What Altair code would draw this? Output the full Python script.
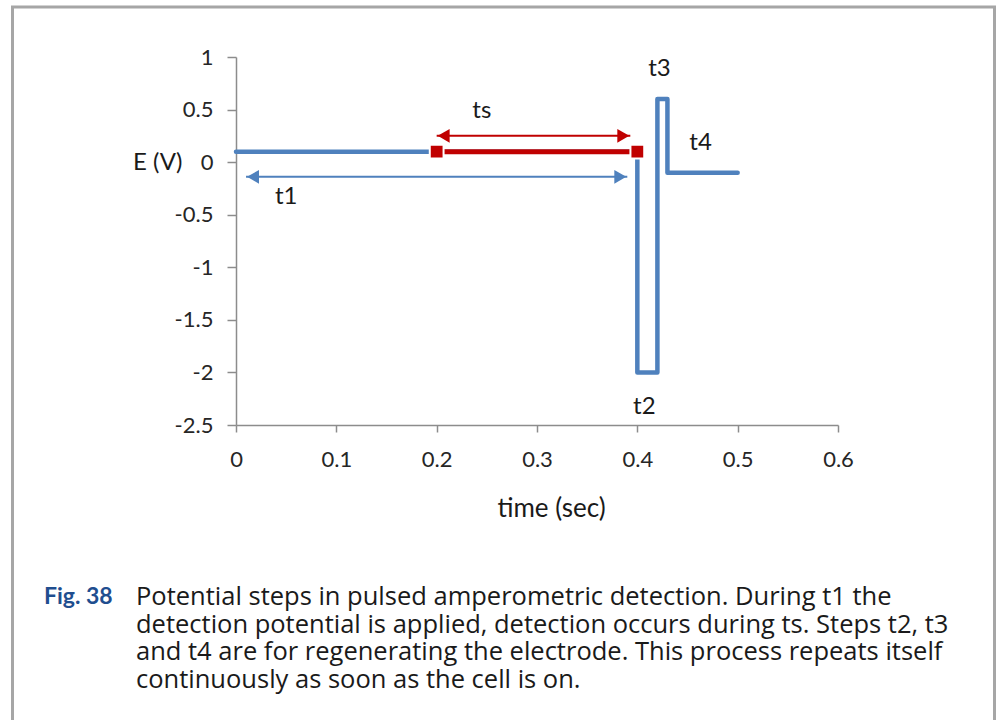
import altair as alt
import pandas as pd

# Applied potential waveform (blue trace): detection level, then t2, t3, t4 steps
wave_t = [0.0, 0.4, 0.4, 0.42, 0.42, 0.43, 0.43, 0.5]
wave_e = [0.1, 0.1, -2.0, -2.0, 0.6, 0.6, -0.1, -0.1]

# Sampling window ts (red segment with end markers)
sample_t = [0.2, 0.4]
sample_e = [0.1, 0.1]

# Duration arrows: [start time, end time, potential level]
t1_arrow = [0.01, 0.39, -0.14]
ts_arrow = [0.2, 0.393, 0.25]

# Step labels
label_text = ["t1", "ts", "t2", "t3", "t4"]
label_t = [0.05, 0.245, 0.407, 0.422, 0.463]
label_e = [-0.33, 0.49, -2.33, 0.89, 0.18]

x_ticks = [0, 0.1, 0.2, 0.3, 0.4, 0.5, 0.6]
y_ticks = [1, 0.5, 0, -0.5, -1, -1.5, -2, -2.5]

caption_tag = "Fig. 38"
caption_lines = [
    "Potential steps in pulsed amperometric detection. During t1 the",
    "detection potential is applied, detection occurs during ts. Steps t2, t3",
    "and t4 are for regenerating the electrode. This process repeats itself",
    "continuously as soon as the cell is on.",
]

BLUE = "#4F81BD"
RED = "#C00000"
AXIS_GRAY = "#8C8C8C"
FONT = "Lato"
CAPTION_FONT = "Open Sans"

wave = pd.DataFrame({"t": wave_t, "e": wave_e, "i": range(len(wave_t))})
sample = pd.DataFrame({"t": sample_t, "e": sample_e})
arrows = pd.DataFrame({
    "t": [t1_arrow[0], ts_arrow[0]],
    "t2": [t1_arrow[1], ts_arrow[1]],
    "e": [t1_arrow[2], ts_arrow[2]],
    "c": [BLUE, RED],
})
labels = pd.DataFrame({"txt": label_text, "t": label_t, "e": label_e})

x_scale = alt.Scale(domain=[0, 0.6], nice=False, zero=False)
y_scale = alt.Scale(domain=[-2.5, 1], nice=False, zero=False)

x_enc = alt.X(
    "t:Q", scale=x_scale,
    axis=alt.Axis(
        values=x_ticks, labelExpr="'' + datum.value", labelFlush=False,
        title="time (sec)",
        titleX=315, titleY=83, titleAnchor=None, titleAlign="center",
        titleBaseline="middle", titleFontSize=26, titleFontWeight="normal",
        tickSize=7, labelPadding=17,
    ),
)
y_enc = alt.Y(
    "e:Q", scale=y_scale,
    axis=alt.Axis(
        values=y_ticks, labelExpr="'' + datum.value", title="E (V)",
        titleAngle=0, titleAlign="right", titleBaseline="middle",
        titleX=-54, titleY=105, titleFontSize=24, titleFontWeight="normal",
        tickSize=9, labelPadding=14,
    ),
)

wave_line = alt.Chart(wave).mark_line(
    color=BLUE, strokeWidth=4.5, strokeJoin="round", strokeCap="round"
).encode(x=x_enc, y=y_enc, order="i:Q")

sample_line = alt.Chart(sample).mark_line(
    color=RED, strokeWidth=5
).encode(x="t:Q", y="e:Q")

sample_pts = alt.Chart(sample).mark_point(
    shape="square", filled=True, color=RED, size=190,
    stroke="white", strokeWidth=2, opacity=1
).encode(x="t:Q", y="e:Q")

arrow_shaft = alt.Chart(arrows).mark_rule(strokeWidth=2).encode(
    x="t:Q", x2="t2:Q", y="e:Q", color=alt.Color("c:N", scale=None)
)
head_left = alt.Chart(arrows).mark_point(
    shape="triangle-left", filled=True, size=190, opacity=1, xOffset=7
).encode(x="t:Q", y="e:Q", color=alt.Color("c:N", scale=None))
head_right = alt.Chart(arrows).mark_point(
    shape="triangle-right", filled=True, size=190, opacity=1, xOffset=-7
).encode(x="t2:Q", y="e:Q", color=alt.Color("c:N", scale=None))

step_labels = alt.Chart(labels).mark_text(
    font=FONT, fontSize=24, color="#1a1a1a", align="center", baseline="middle"
).encode(x="t:Q", y="e:Q", text="txt:N")

# Frame around the figure and its caption
one = pd.DataFrame({"k": [0]})
frame = alt.Chart(one).mark_rect(
    fill=None, stroke="#A6A6A6", strokeWidth=3
).encode(
    x=alt.value(-223.5), x2=alt.value(758.5),
    y=alt.value(-50), y2=alt.value(700),
)

cap_tag = alt.Chart(one).mark_text(
    font=FONT, fontSize=23, fontWeight="bold", color="#1F4E8F",
    align="left", baseline="middle"
).encode(x=alt.value(-192), y=alt.value(540), text=alt.value(caption_tag))

cap_body = alt.Chart(one).mark_text(
    font=CAPTION_FONT, fontSize=25.5, color="#1a1a1a", align="left",
    baseline="middle", lineHeight=27.7
).encode(x=alt.value(-100), y=alt.value(540), text=alt.value(caption_lines))

chart = alt.layer(
    frame, wave_line, sample_line, sample_pts,
    arrow_shaft, head_left, head_right, step_labels, cap_tag, cap_body,
).properties(
    width=602, height=368, autosize="none",
    padding={"left": 236, "top": 57, "right": 161, "bottom": 295},
    background="white",
).configure_view(stroke=None).configure_axis(
    grid=False, domainColor=AXIS_GRAY, tickColor=AXIS_GRAY,
    domainWidth=1.5, tickWidth=1.5,
    labelFont=FONT, labelFontSize=22, labelColor="#262626",
    titleFont=FONT, titleColor="#1a1a1a",
)

chart.save("out.html", embed_options={"renderer": "svg", "actions": False})
